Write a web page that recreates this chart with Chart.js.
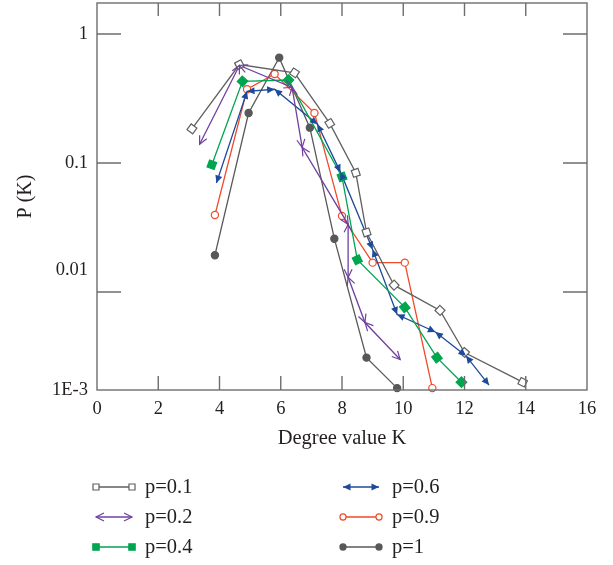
<!DOCTYPE html>
<html>
<head>
<meta charset="utf-8">
<script src="https://cdn.jsdelivr.net/npm/chart.js@4"></script>
<style>
  html, body { margin: 0; padding: 0; background: #fff; }
  #wrap { width: 613px; height: 565px; position: relative; }
</style>
</head>
<body>
<div id="wrap"><canvas id="chart"></canvas></div>
<script>
// series values (K, P(K))
const seriesNames = ['p=0.1', 'p=0.2', 'p=0.4', 'p=0.6', 'p=0.9', 'p=1'];

const k01 = [3.1, 4.65, 6.45, 7.6, 8.45, 8.8, 9.7, 11.2, 12.0, 13.9];
const p01 = [0.184, 0.58, 0.50, 0.203, 0.084, 0.029, 0.0113, 0.0072, 0.0034, 0.0020];

const k02 = [3.35, 4.65, 6.37, 6.7, 8.2, 8.2, 8.75, 9.9];
const p02 = [0.14, 0.57, 0.386, 0.132, 0.0335, 0.013, 0.0058, 0.0030];

const k04 = [3.75, 4.75, 6.25, 8.0, 8.5, 10.05, 11.1, 11.9];
const p04 = [0.097, 0.43, 0.44, 0.078, 0.0178, 0.0076, 0.0031, 0.0020];

const k06 = [3.9, 4.9, 5.8, 7.2, 7.95, 9.0, 9.8, 11.05, 12.05, 12.8];
const p06 = [0.070, 0.36, 0.373, 0.20, 0.085, 0.0214, 0.0067, 0.0049, 0.0032, 0.0019];

const k09 = [3.85, 4.9, 5.8, 7.1, 8.0, 9.0, 10.05, 10.95];
const p09 = [0.0395, 0.373, 0.49, 0.244, 0.0388, 0.0169, 0.0169, 0.0018];

const k10 = [3.85, 4.95, 5.95, 6.95, 7.75, 8.8, 9.8];
const p10 = [0.0193, 0.244, 0.656, 0.188, 0.0259, 0.0031, 0.0018];

// axis
const xTicks = [0, 2, 4, 6, 8, 10, 12, 14, 16];
const yTicks = [0.01, 0.1, 1];
const yMin = 0.00174;
const yMax = 1.74;

const colors = ['#5f5f5f', '#7040a0', '#00a550', '#1d4b9a', '#ef4a2a', '#585858'];
const serif = '"Liberation Serif", "DejaVu Serif", serif';
const textColor = '#231f20';

function pts(ks, ps) {
  return ks.map((k, i) => ({ x: k, y: ps[i] }));
}

// marker kind per series
const markers = [
  { style: 'rect', fill: '#fff', radius: 5, turn: true },
  { arrow: 'open' },
  { style: 'rect', fill: null, radius: 5.3, turn: true },
  { arrow: 'filled' },
  { style: 'circle', fill: '#fff', radius: 3.6 },
  { style: 'circle', fill: null, radius: 3.6 }
];

const allK = [k01, k02, k04, k06, k09, k10];
const allP = [p01, p02, p04, p06, p09, p10];

// squares are turned along the line, like in the original
function turnAlong(c) {
  const ch = c.chart;
  const d = ch.data.datasets[c.datasetIndex].data;
  const i = c.dataIndex;
  const a = d[Math.max(i - 1, 0)], b = d[Math.min(i + 1, d.length - 1)];
  const xs = ch.scales.x, ys = ch.scales.y;
  if (!xs || !ys) return 0;
  const dx = xs.getPixelForValue(b.x) - xs.getPixelForValue(a.x);
  const dy = ys.getPixelForValue(b.y) - ys.getPixelForValue(a.y);
  return Math.atan2(dy, dx) * 180 / Math.PI;
}

const datasets = seriesNames.map((name, i) => {
  const m = markers[i];
  return {
    label: name,
    data: pts(allK[i], allP[i]),
    showLine: true,
    borderColor: colors[i],
    borderWidth: 1.3,
    backgroundColor: m.fill || colors[i],
    pointStyle: m.style || 'circle',
    pointRadius: m.arrow ? 0 : m.radius,
    pointHoverRadius: m.arrow ? 0 : m.radius,
    pointBorderWidth: 1.2,
    pointBorderColor: colors[i],
    pointBackgroundColor: m.fill || colors[i],
    pointRotation: m.turn ? turnAlong : 0,
    arrow: m.arrow || null,
    clip: false
  };
});

function drawHead(ctx, tx, ty, dx, dy, kind, color) {
  const len = Math.hypot(dx, dy) || 1;
  const ux = dx / len, uy = dy / len;
  const L = kind === 'open' ? 8 : 7.5;
  const W = kind === 'open' ? 4 : 3.6;
  const bx = tx - ux * L, by = ty - uy * L;
  const ax = bx - uy * W, ay = by + ux * W;
  const cx = bx + uy * W, cy = by - ux * W;
  ctx.save();
  ctx.strokeStyle = color;
  ctx.fillStyle = color;
  ctx.lineWidth = 1.2;
  ctx.beginPath();
  if (kind === 'open') {
    ctx.moveTo(ax, ay);
    ctx.lineTo(tx, ty);
    ctx.lineTo(cx, cy);
    ctx.stroke();
  } else {
    ctx.moveTo(tx, ty);
    ctx.lineTo(ax, ay);
    ctx.lineTo(cx, cy);
    ctx.closePath();
    ctx.fill();
  }
  ctx.restore();
}

function drawMarker(ctx, x, y, m, color) {
  ctx.save();
  ctx.strokeStyle = color;
  ctx.fillStyle = m.fill || color;
  ctx.lineWidth = 1.2;
  Chart.helpers.drawPoint(ctx, { pointStyle: m.style, radius: m.radius * 0.85, rotation: 0, borderWidth: 1.2 }, x, y);
  ctx.restore();
}

// arrow heads at both ends of every segment, frame, inward ticks, legend
const extras = {
  id: 'extras',
  afterDatasetsDraw(chart) {
    const ctx = chart.ctx;
    chart.data.datasets.forEach((ds, i) => {
      if (!ds.arrow) return;
      const els = chart.getDatasetMeta(i).data;
      for (let j = 0; j < els.length - 1; j++) {
        const a = els[j], b = els[j + 1];
        drawHead(ctx, b.x, b.y, b.x - a.x, b.y - a.y, ds.arrow, ds.borderColor);
        drawHead(ctx, a.x, a.y, a.x - b.x, a.y - b.y, ds.arrow, ds.borderColor);
      }
    });
  },
  afterDraw(chart) {
    const ctx = chart.ctx;
    const { left, right, top, bottom } = chart.chartArea;
    const xs = chart.scales.x, ys = chart.scales.y;
    ctx.save();
    ctx.strokeStyle = '#6e6e6e';
    ctx.lineWidth = 1.4;
    ctx.strokeRect(left, top, right - left, bottom - top);
    ctx.beginPath();
    xTicks.forEach(v => {
      if (v === xTicks[0] || v === xTicks[xTicks.length - 1]) return;
      const px = xs.getPixelForValue(v);
      ctx.moveTo(px, bottom);
      ctx.lineTo(px, bottom - 14);
      ctx.moveTo(px, top);
      ctx.lineTo(px, top + 13);
    });
    yTicks.forEach(v => {
      const py = ys.getPixelForValue(v);
      ctx.moveTo(left, py);
      ctx.lineTo(left + 24, py);
      ctx.moveTo(right, py);
      ctx.lineTo(right - 24, py);
    });
    ctx.stroke();
    ctx.restore();

    // legend, two columns of three
    const colX = [96, 343];
    const rowY = [487, 517, 547];
    chart.data.datasets.forEach((ds, i) => {
      const x0 = colX[Math.floor(i / 3)];
      const y0 = rowY[i % 3];
      const x1 = x0 + 36;
      ctx.save();
      ctx.strokeStyle = ds.borderColor;
      ctx.lineWidth = 1.3;
      ctx.beginPath();
      ctx.moveTo(x0, y0);
      ctx.lineTo(x1, y0);
      ctx.stroke();
      ctx.restore();
      const m = markers[i];
      if (m.arrow) {
        drawHead(ctx, x1, y0, 1, 0, m.arrow, ds.borderColor);
        drawHead(ctx, x0, y0, -1, 0, m.arrow, ds.borderColor);
      } else {
        drawMarker(ctx, x0, y0, m, ds.borderColor);
        drawMarker(ctx, x1, y0, m, ds.borderColor);
      }
      ctx.save();
      ctx.fillStyle = textColor;
      ctx.font = '20.5px ' + serif;
      ctx.textBaseline = 'middle';
      ctx.fillText(ds.label, x0 + 49, y0 + 1);
      ctx.restore();
    });
  }
};

const ctx = document.getElementById('chart').getContext('2d');
const myChart = new Chart(ctx, {
  type: 'scatter',
  data: { datasets: datasets },
  options: {
    responsive: true,
    maintainAspectRatio: false,
    animation: false,
    layout: { autoPadding: false, padding: { top: 3, right: 26, bottom: 113, left: 0 } },
    plugins: {
      legend: { display: false },
      tooltip: { enabled: false }
    },
    scales: {
      x: {
        type: 'linear',
        min: 0,
        max: 16,
        afterBuildTicks: s => { s.ticks = xTicks.map(v => ({ value: v })); },
        afterFit: s => { s.height = 62; s.paddingLeft = 0; s.paddingRight = 0; },
        grid: { display: false, drawTicks: false },
        border: { display: false },
        ticks: { padding: 8, color: textColor, font: { family: serif, size: 18.5 } },
        title: {
          display: true,
          text: 'Degree value K',
          color: textColor,
          font: { family: serif, size: 20.5 },
          padding: { top: 4, bottom: 1 }
        }
      },
      y: {
        type: 'logarithmic',
        min: yMin,
        max: yMax,
        afterBuildTicks: s => { s.ticks = [yMin].concat(yTicks).map(v => ({ value: v })); },
        afterFit: s => { s.width = 97; s.paddingTop = 0; s.paddingBottom = 0; },
        grid: { display: false, drawTicks: false },
        border: { display: false },
        ticks: {
          padding: 9,
          color: textColor,
          font: { family: serif, size: 18.5 },
          // the original prints "0.01" one line above its tick
          callback: v => (v === yMin ? '1E-3' : (v === 0.01 ? ['0.01', '', ''] : String(v)))
        },
        title: {
          display: true,
          text: 'P (K)',
          color: textColor,
          font: { family: serif, size: 20 },
          padding: { top: 14, bottom: 0 }
        }
      }
    }
  },
  plugins: [extras]
});
</script>
</body>
</html>
